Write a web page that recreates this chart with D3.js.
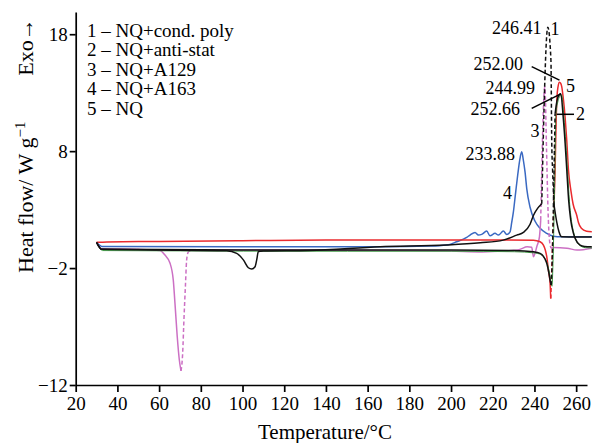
<!DOCTYPE html>
<html>
<head>
<meta charset="utf-8">
<script src="https://cdn.jsdelivr.net/npm/d3@7"></script>
<style>
  html, body { margin: 0; padding: 0; background: #fff; }
  svg { display: block; }
  text { font-family: "Liberation Serif", "Times New Roman", serif; fill: #000; }
</style>
</head>
<body>
<script>
// ---------- data (temperature °C, heat flow W/g) ----------
const xTicks = [20, 40, 60, 80, 100, 120, 140, 160, 180, 200, 220, 240, 260];
const yTicks = [-12, -2, 8, 18];
const legendLabels = ["1 – NQ+cond. poly", "2 – NQ+anti-stat", "3 – NQ+A129", "4 – NQ+A163", "5 – NQ"];
const peakLabels = ["246.41", "252.00", "244.99", "252.66", "233.88"];
const curveNumbers = ["1", "5", "2", "3", "4"];

const condPoly = [[30,0.2],[32.5,-0.4],[60,-0.45],[92.4,-0.52],[97.2,-0.74],[100.4,-1.3],[102.8,-1.97],[104.4,-2.08],[106,-1.89],[106.8,-1.3],[107.6,-0.59],[110,-0.55],[132,-0.5],[166,-0.18],[198,-0.03],[214,0.16],[225,0.39],[231.5,0.82],[234.7,1.05],[237.9,1.75],[239.5,2.5],[241.5,3.1],[243.5,3.5],[246.41,18.6],[247.9,15.8],[248.3,8.7],[248.7,6.4],[249.4,3.4],[250.7,1.93],[251.8,1.08],[253.1,0.67],[260,0.65],[267.5,0.65]];

const antiStat = [[30,0.2],[32.5,-0.4],[60,-0.42],[100,-0.45],[150,-0.46],[200,-0.46],[230,-0.5],[239.5,-0.6],[242.7,-0.74],[245,-1.2],[245.9,-1.6],[247,-2.5],[247.5,-3.03],[248,-3.45],[248.5,-1.5],[248.9,1.5],[249.4,6.4],[249.9,11.2],[250.8,12.3],[251.8,12.8],[252.66,12.9],[253.7,11.1],[254.7,8.7],[255.5,6.4],[256.4,3.8],[257.4,2.1],[258.5,1.1],[259.5,0.54],[261.9,-0.03],[264,-0.15],[267.5,-0.18]];

const a129 = [[30,0.2],[32.5,-0.35],[50,-0.4],[60.4,-0.5],[62.8,-0.89],[65.2,-1.57],[66.8,-3.03],[67.6,-5.0],[68.7,-7.87],[69.7,-9.86],[70.5,-10.8],[71.3,-9.26],[71.9,-6.44],[72.6,-3.6],[73.2,-1.32],[74,-0.6],[75.6,-0.46],[120,-0.45],[180,-0.5],[200,-0.55],[215,-0.62],[225,-0.55],[233,-0.4],[236.5,-0.18],[238.7,-0.22],[239.5,-1.03],[240.3,-0.72],[241.1,-0.18],[242.4,0.67],[243,2.1],[244.99,13.5],[245.8,8.1],[246.5,3.0],[247.2,0.4],[248,-0.3],[249,-0.25],[255.6,-0.3],[260.4,-0.46],[267.5,-0.3]];

const a163 = [[30,0.2],[32.5,-0.15],[100,-0.18],[166,-0.18],[190,-0.12],[197.9,-0.03],[202.7,0.25],[207.5,0.62],[209.1,0.82],[211.5,1.05],[213.1,0.82],[214.7,0.88],[217.1,1.16],[218.7,0.76],[221.1,0.97],[222.7,0.82],[225.1,1.16],[226.7,0.88],[228.3,1.1],[229.1,1.9],[229.9,2.8],[231,4.5],[232,6.0],[233,7.3],[233.88,7.95],[234.7,7.2],[235.5,6.2],[236.3,4.8],[237.9,3.2],[240.3,2.0],[242.7,1.4],[245.9,0.97],[249,0.73],[253,0.67],[267.5,0.67]];

const nq = [[30,0.2],[35,0.24],[60,0.28],[100,0.34],[140,0.4],[180,0.4],[220,0.4],[239.5,0.39],[242.7,0.25],[244.3,-0.03],[245.2,-0.45],[245.9,-1.03],[246.7,-2.17],[247.5,-3.3],[247.8,-4.6],[248.3,-2.17],[248.8,0.67],[249.4,3.53],[249.9,6.4],[250.4,10.6],[250.8,12.6],[251.3,13.5],[252.0,13.9],[252.6,13.8],[253.1,13.5],[253.9,12.4],[254.7,10.9],[255.5,8.9],[256.3,6.4],[257.5,4.6],[258.5,3.5],[260.3,2.5],[261.1,1.9],[262.5,1.4],[265,1.15],[267.5,1.1]];

// ---------- layout ----------
const W = 592, H = 443;
const svg = d3.select("body").append("svg").attr("width", W).attr("height", H);
const x = d3.scaleLinear().domain([20, 265.2]).range([75.7, 587]);
const y = d3.scaleLinear().domain([-12, 19.9]).range([385, 12]);

const line = d3.line().x(d => x(d[0])).y(d => y(d[1])).curve(d3.curveMonotoneX);

function runs(data, ranges) {
  const out = [];
  for (let i = 0; i < data.length - 1; i++) {
    const mid = (data[i][0] + data[i + 1][0]) / 2;
    const dashed = ranges.some(r => mid > r[0] && mid < r[1]);
    const last = out[out.length - 1];
    if (last && last.dashed === dashed) last.pts.push(data[i + 1]);
    else out.push({ dashed, pts: [data[i], data[i + 1]] });
  }
  return out;
}

function drawSeries(data, color, width, ranges, dx = 0, dy = 0) {
  const g = svg.append("g").attr("transform", `translate(${dx},${dy})`);
  runs(data, ranges).forEach(r => {
    g.append("path").attr("d", line(r.pts)).attr("fill", "none")
      .attr("stroke", color).attr("stroke-width", width)
      .attr("stroke-linejoin", "round")
      .attr("stroke-dasharray", r.dashed ? "4,2.5" : null);
  });
}

drawSeries(a163, "#3a69c2", 1.5, []);
drawSeries(a129, "#cc70c4", 1.5, [[70.5, 74], [243, 248]]);
drawSeries(nq, "#ea2a2e", 1.5, [[247.8, 249.4]]);
drawSeries(antiStat, "#3f9a45", 1.0, [], 0.8, 1.2);
drawSeries(antiStat, "#111", 1.5, [[248, 249.9]]);
drawSeries(condPoly, "#111", 1.5, [[243.5, 249.4]]);

// ---------- axes ----------
const xAxis = svg.append("g").attr("transform", "translate(0,385)")
  .call(d3.axisBottom(x).tickValues(xTicks).tickSize(7).tickSizeOuter(0).tickPadding(5).tickFormat(d3.format("d")));
const yAxis = svg.append("g").attr("transform", "translate(75.7,0)")
  .call(d3.axisLeft(y).tickValues(yTicks).tickSize(6).tickSizeOuter(0).tickPadding(2).tickFormat(d3.format("d")));
[xAxis, yAxis].forEach(a => {
  a.selectAll("path, line").attr("stroke", "#000").attr("stroke-width", 1.7);
  a.selectAll("text").attr("font-size", 19).attr("font-family", "Liberation Serif").attr("fill", "#000");
});

// axis titles
svg.append("text").attr("x", 325).attr("y", 439).attr("text-anchor", "middle")
  .attr("font-size", 21).text("Temperature/°C");
const yt = svg.append("text").attr("transform", "translate(33,273) rotate(-90)")
  .attr("font-size", 22);
yt.append("tspan").text("Heat flow/ W g");
yt.append("tspan").attr("dy", -8).attr("font-size", 15).text("−1");
svg.append("text").attr("transform", "translate(33,47) rotate(-90)")
  .attr("text-anchor", "middle").attr("font-size", 22).text("Exo→");

// legend
svg.append("g").selectAll("text").data(legendLabels).join("text")
  .attr("x", 87).attr("y", (d, i) => 36.5 + i * 19.6)
  .attr("font-size", 19).text(d => d);

// peak annotations
const ann = svg.append("g").attr("font-size", 18);
ann.append("text").attr("x", 541.5).attr("y", 34).attr("text-anchor", "end").text(peakLabels[0]);
ann.append("text").attr("x", 523).attr("y", 70).attr("text-anchor", "end").text(peakLabels[1]);
ann.append("text").attr("x", 535).attr("y", 93.5).attr("text-anchor", "end").text(peakLabels[2]);
ann.append("text").attr("x", 520).attr("y", 115).attr("text-anchor", "end").text(peakLabels[3]);
ann.append("text").attr("x", 515).attr("y", 160).attr("text-anchor", "end").text(peakLabels[4]);

const num = svg.append("g").attr("font-size", 18);
num.append("text").attr("x", 550.5).attr("y", 35).text(curveNumbers[0]);
num.append("text").attr("x", 566).attr("y", 92).text(curveNumbers[1]);
num.append("text").attr("x", 576).attr("y", 120).text(curveNumbers[2]);
num.append("text").attr("x", 530.5).attr("y", 137).text(curveNumbers[3]);
num.append("text").attr("x", 503).attr("y", 198.5).text(curveNumbers[4]);

// leader lines
const lead = svg.append("g").attr("stroke", "#000").attr("stroke-width", 1.5);
lead.append("line").attr("x1", 531.7).attr("y1", 66.7).attr("x2", x(252.0)).attr("y2", y(13.9) - 2);
lead.append("line").attr("x1", 531.7).attr("y1", 108.3).attr("x2", x(252.66)).attr("y2", y(12.9));
lead.append("line").attr("x1", 556.7).attr("y1", 114.3).attr("x2", 574).attr("y2", 114.3);
</script>
</body>
</html>
